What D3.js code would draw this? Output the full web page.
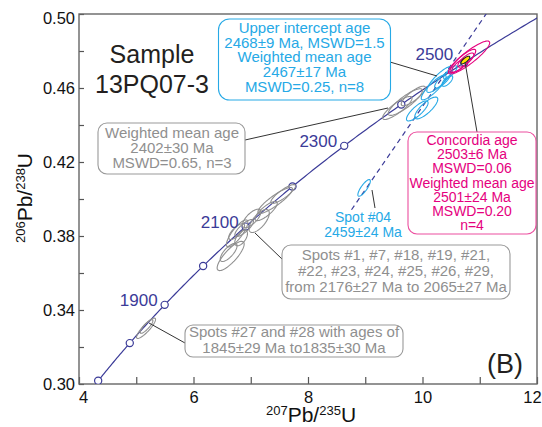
<!DOCTYPE html>
<html lang="en">
  <head>
    <meta charset="utf-8">
    <title>Concordia diagram</title>
    <script src="https://d3js.org/d3.v7.js"></script>
    <style>
      body { margin: 0; background: #fff; }
      text { font-family: "Liberation Sans", Arial, sans-serif; }
    </style>
  </head>
  <body>
    <script>

  // size
  var w = 542;
  var h = 427;
  var margin = {top: 14, right: 5, bottom: 43, left: 79};
  var innerWidth = w - margin.left - margin.right;
  var innerHeight = h - margin.top - margin.bottom;

  // decay constants (per year)
  var L238 = 1.55125e-10;
  var L235 = 9.8485e-10;

  // concordia ages (Ma)
  var markerAges = [1700, 1800, 1900, 2000, 2100, 2200, 2300, 2400, 2500];
  var labelAges = [1900, 2100, 2300, 2500];
  var curveAges = [1700, 2610];

  // discordia: lower / upper intercept (Ma), drawn between these 207/235 values
  var intercepts = [0, 2468];
  var discordiaX = [8.76, 11.2];

  // ellipses: [207Pb/235U, 206Pb/238U, sx, sy, rho]
  var greyOld = [
    [9.70, 0.4524, 0.299, 0.0072, 0.863],
    [9.56, 0.4492, 0.257, 0.0062, 0.849],
    [9.84, 0.4557, 0.212, 0.0053, 0.827]
  ];
  var greyMid = [
    [7.427, 0.3992, 0.302, 0.0070, 0.884],
    [7.566, 0.4027, 0.216, 0.0051, 0.856],
    [7.147, 0.3881, 0.177, 0.0062, 0.685],
    [7.016, 0.3895, 0.161, 0.0050, 0.704],
    [6.762, 0.3814, 0.187, 0.0073, 0.822],
    [6.753, 0.3824, 0.139, 0.0043, 0.747],
    [6.649, 0.3692, 0.236, 0.0079, 0.816],
    [6.614, 0.3711, 0.147, 0.0049, 0.732],
    [6.885, 0.3843, 0.163, 0.0046, 0.800],
    [7.269, 0.3935, 0.194, 0.0052, 0.809],
    [6.832, 0.3789, 0.111, 0.0042, 0.577]
  ];
  var greyYoung = [
    [5.171, 0.3301, 0.166, 0.0055, 0.874],
    [5.180, 0.3311, 0.111, 0.0037, 0.856]
  ];
  var cyanSpots = [
    [10.30, 0.4646, 0.225, 0.0070, 0.848],
    [10.195, 0.4603, 0.217, 0.0067, 0.869],
    [10.355, 0.4643, 0.143, 0.0044, 0.816],
    [10.486, 0.4684, 0.117, 0.0036, 0.800],
    [9.909, 0.4476, 0.189, 0.0054, 0.810],
    [10.066, 0.4492, 0.201, 0.0059, 0.800],
    [10.434, 0.4638, 0.094, 0.0029, 0.690],
    [8.98, 0.4060, 0.109, 0.0045, 0.819]
  ];
  var magentaSpots = [
    [10.813, 0.4765, 0.361, 0.0089, 0.890],
    [10.705, 0.4746, 0.225, 0.0063, 0.862],
    [10.757, 0.4751, 0.140, 0.0038, 0.777],
    [10.652, 0.4724, 0.140, 0.0038, 0.777]
  ];
  var concordiaPoint = [[10.748, 0.4751, 0.077, 0.0021, 0.763]];

  // tick values
  var xTicks = [4, 5, 6, 7, 8, 9, 10, 11, 12];
  var yTicks = [0.30, 0.32, 0.34, 0.36, 0.38, 0.40, 0.42, 0.44, 0.46, 0.48, 0.50];

  // annotation texts
  var cyanText = ["Upper intercept age", "2468\u00b19 Ma, MSWD=1.5", "Weighted mean age", "2467\u00b117 Ma", "MSWD=0.25, n=8"];
  var greyOldText = ["Weighted mean age", "2402\u00b130 Ma", "MSWD=0.65, n=3"];
  var magentaText = ["Concordia age", "2503\u00b16 Ma", "MSWD=0.06", "Weighted mean age", "2501\u00b124 Ma", "MSWD=0.20", "n=4"];
  var spot04Text = ["Spot #04", "2459\u00b124 Ma"];
  var greyMidText = ["Spots #1, #7, #18, #19, #21,", "#22, #23, #24, #25, #26, #29,", "from 2176\u00b127 Ma to 2065\u00b127 Ma"];
  var greyYoungText = ["Spots #27 and #28 with ages of", "1845\u00b129 Ma to1835\u00b130 Ma"];

  // colours
  var navy = "#3b3b98";
  var grey = "#8f8f8f";
  var cyan = "#26a9e6";
  var magenta = "#e5007e";

  function concordia(t) {
    return [Math.exp(L235 * t * 1e6) - 1, Math.exp(L238 * t * 1e6) - 1];
  }

  // scales
  var xScale = d3.scaleLinear().domain([4, 12]).range([0, innerWidth]);
  var yScale = d3.scaleLinear().domain([0.30, 0.50]).range([innerHeight, 0]);

  var svg = d3.select("body")
    .append("svg")
    .attr("width", w)
    .attr("height", h);

  svg.append("clipPath")
    .attr("id", "plotClip")
    .append("rect")
    .attr("width", innerWidth)
    .attr("height", innerHeight);

  var g = svg.append("g")
    .attr("transform", `translate(${margin.left}, ${margin.top})`);

  // axes, ticks pointing inwards
  var xAxis = d3.axisBottom(xScale)
    .tickValues(xTicks)
    .tickSize(-7)
    .tickPadding(7)
    .tickFormat(d => d % 2 === 0 ? d : "");

  var yAxis = d3.axisLeft(yScale)
    .tickValues(yTicks)
    .tickSize(-5)
    .tickPadding(4)
    .tickFormat((d, i) => i % 2 === 0 ? d3.format(".2f")(d) : "");

  var gx = g.append("g")
    .attr("transform", `translate(0, ${innerHeight})`)
    .call(xAxis);
  var gy = g.append("g").call(yAxis);

  [gx, gy].forEach(function(a) {
    a.select(".domain").remove();
    a.selectAll("line").attr("stroke", "#555").attr("stroke-width", 1.2);
    a.selectAll("text")
      .attr("fill", "#111")
      .style("font-size", "16.5px")
      .style("font-family", "'Liberation Sans', Arial, sans-serif");
  });
  gy.selectAll(".tick text").filter(d => d === 0.50).attr("dy", "0.6em");
  gx.selectAll(".tick text").filter(d => d === 4).attr("dx", 4);
  gx.selectAll(".tick text").filter(d => d === 12).attr("dx", -5);

  g.append("rect")
    .attr("width", innerWidth)
    .attr("height", innerHeight)
    .attr("fill", "none")
    .attr("stroke", "#666")
    .attr("stroke-width", 1.4);

  var plot = g.append("g").attr("clip-path", "url(#plotClip)");

  // concordia curve
  var curvePts = d3.range(curveAges[0], curveAges[1] + 1, 5).map(concordia);
  plot.append("path")
    .datum(curvePts)
    .attr("fill", "none")
    .attr("stroke", navy)
    .attr("stroke-width", 1.2)
    .attr("d", d3.line().x(d => xScale(d[0])).y(d => yScale(d[1])));

  // discordia through both intercepts
  var p0 = concordia(intercepts[0]);
  var p1 = concordia(intercepts[1]);
  var slope = (p1[1] - p0[1]) / (p1[0] - p0[0]);
  plot.append("line")
    .attr("x1", xScale(discordiaX[0]))
    .attr("y1", yScale(p0[1] + slope * (discordiaX[0] - p0[0])))
    .attr("x2", xScale(discordiaX[1]))
    .attr("y2", yScale(p0[1] + slope * (discordiaX[1] - p0[0])))
    .attr("stroke", navy)
    .attr("stroke-width", 1.2)
    .attr("stroke-dasharray", "5,4");

  // age markers
  plot.selectAll("circle.age")
    .data(markerAges)
    .enter()
    .append("circle")
    .attr("class", "age")
    .attr("cx", d => xScale(concordia(d)[0]))
    .attr("cy", d => yScale(concordia(d)[1]))
    .attr("r", 3.6)
    .attr("fill", "#fff")
    .attr("stroke", navy)
    .attr("stroke-width", 1.2);

  g.selectAll("text.age")
    .data(labelAges)
    .enter()
    .append("text")
    .attr("class", "age")
    .attr("x", d => xScale(concordia(d)[0]) - (d === 2500 ? 11 : 7))
    .attr("y", d => yScale(concordia(d)[1]) + (d === 2500 ? -3 : 1))
    .attr("text-anchor", "end")
    .attr("fill", navy)
    .style("font-size", "17px")
    .text(d => d);

  // error ellipses
  function ellipse(e) {
    var k = Math.sqrt(1 - e[4] * e[4]);
    return d3.range(0, 2 * Math.PI, Math.PI / 36).map(function(t) {
      return [e[0] + e[2] * Math.cos(t), e[1] + e[3] * (e[4] * Math.cos(t) + k * Math.sin(t))];
    });
  }
  var ellipseLine = d3.line()
    .x(d => xScale(d[0]))
    .y(d => yScale(d[1]))
    .curve(d3.curveLinearClosed);

  function drawEllipses(data, stroke, fill) {
    plot.append("g")
      .selectAll("path")
      .data(data)
      .enter()
      .append("path")
      .attr("d", d => ellipseLine(ellipse(d)))
      .attr("fill", fill)
      .attr("stroke", stroke)
      .attr("stroke-width", 1.1);
  }
  drawEllipses(greyYoung, grey, "none");
  drawEllipses(greyMid, grey, "none");
  drawEllipses(greyOld, grey, "none");
  drawEllipses(cyanSpots, cyan, "none");
  drawEllipses(magentaSpots, magenta, "none");
  drawEllipses(concordiaPoint, "#222", "#ffe400");

  // leader lines (svg coordinates)
  var leaders = svg.append("g").attr("stroke", "#333").attr("stroke-width", 1);
  [[390, 62, 437, 76], [245, 140, 388, 108], [465, 62, 477, 132],
   [372, 190, 375, 208], [255, 233, 282, 259], [149, 323, 185, 343]].forEach(function(l) {
    leaders.append("line").attr("x1", l[0]).attr("y1", l[1]).attr("x2", l[2]).attr("y2", l[3]);
  });

  // boxed annotations
  function note(lines, cx, y0, step, color, size, box) {
    if (box) {
      svg.append("rect")
        .attr("x", box[0]).attr("y", box[1])
        .attr("width", box[2]).attr("height", box[3])
        .attr("rx", box[4]).attr("ry", box[4])
        .attr("fill", "#fff")
        .attr("stroke", box[5])
        .attr("stroke-width", 1.1);
    }
    svg.append("text")
      .attr("text-anchor", "middle")
      .attr("fill", color)
      .style("font-size", size + "px")
      .selectAll("tspan")
      .data(lines)
      .enter()
      .append("tspan")
      .attr("x", cx)
      .attr("y", (d, i) => y0 + i * step)
      .text(d => d);
  }

  note(cyanText, 304.5, 33, 14.7, cyan, 15, [218.5, 19, 172, 81, 11, cyan]);
  note(greyOldText, 172, 138, 15, grey, 15, [98, 123, 147, 51, 9, "#999"]);
  note(magentaText, 472, 145, 14.2, magenta, 14, [408, 132, 128, 102, 9, "#ec4f9f"]);
  note(spot04Text, 363, 222, 15, cyan, 14, null);
  note(greyMidText, 396, 260, 16, grey, 15, [282, 245, 228, 54, 9, "#999"]);
  note(greyYoungText, 294, 337, 16, grey, 15, [185, 325, 218, 32, 8, "#999"]);

  // sample name and panel letter
  note(["Sample", "13PQ07-3"], 152, 63, 30, "#231f20", 25, null);
  svg.append("text")
    .attr("x", 505).attr("y", 373)
    .attr("text-anchor", "middle")
    .attr("fill", "#231f20")
    .style("font-size", "27px")
    .text("(B)");

  // axis titles
  function isoTitle(sel, a, b) {
    sel.append("tspan").attr("baseline-shift", "super").style("font-size", "13px").text(a);
    sel.append("tspan").text("Pb/");
    sel.append("tspan").attr("baseline-shift", "super").style("font-size", "13px").text(b);
    sel.append("tspan").text("U");
  }
  var xt = svg.append("text")
    .attr("x", 311).attr("y", 422)
    .attr("text-anchor", "middle")
    .attr("fill", "#111")
    .style("font-size", "21px");
  isoTitle(xt, "207", "235");

  var yt = svg.append("text")
    .attr("transform", "translate(32, 198) rotate(-90)")
    .attr("text-anchor", "middle")
    .attr("fill", "#111")
    .style("font-size", "21px");
  isoTitle(yt, "206", "238");

    </script>
  </body>
</html>
